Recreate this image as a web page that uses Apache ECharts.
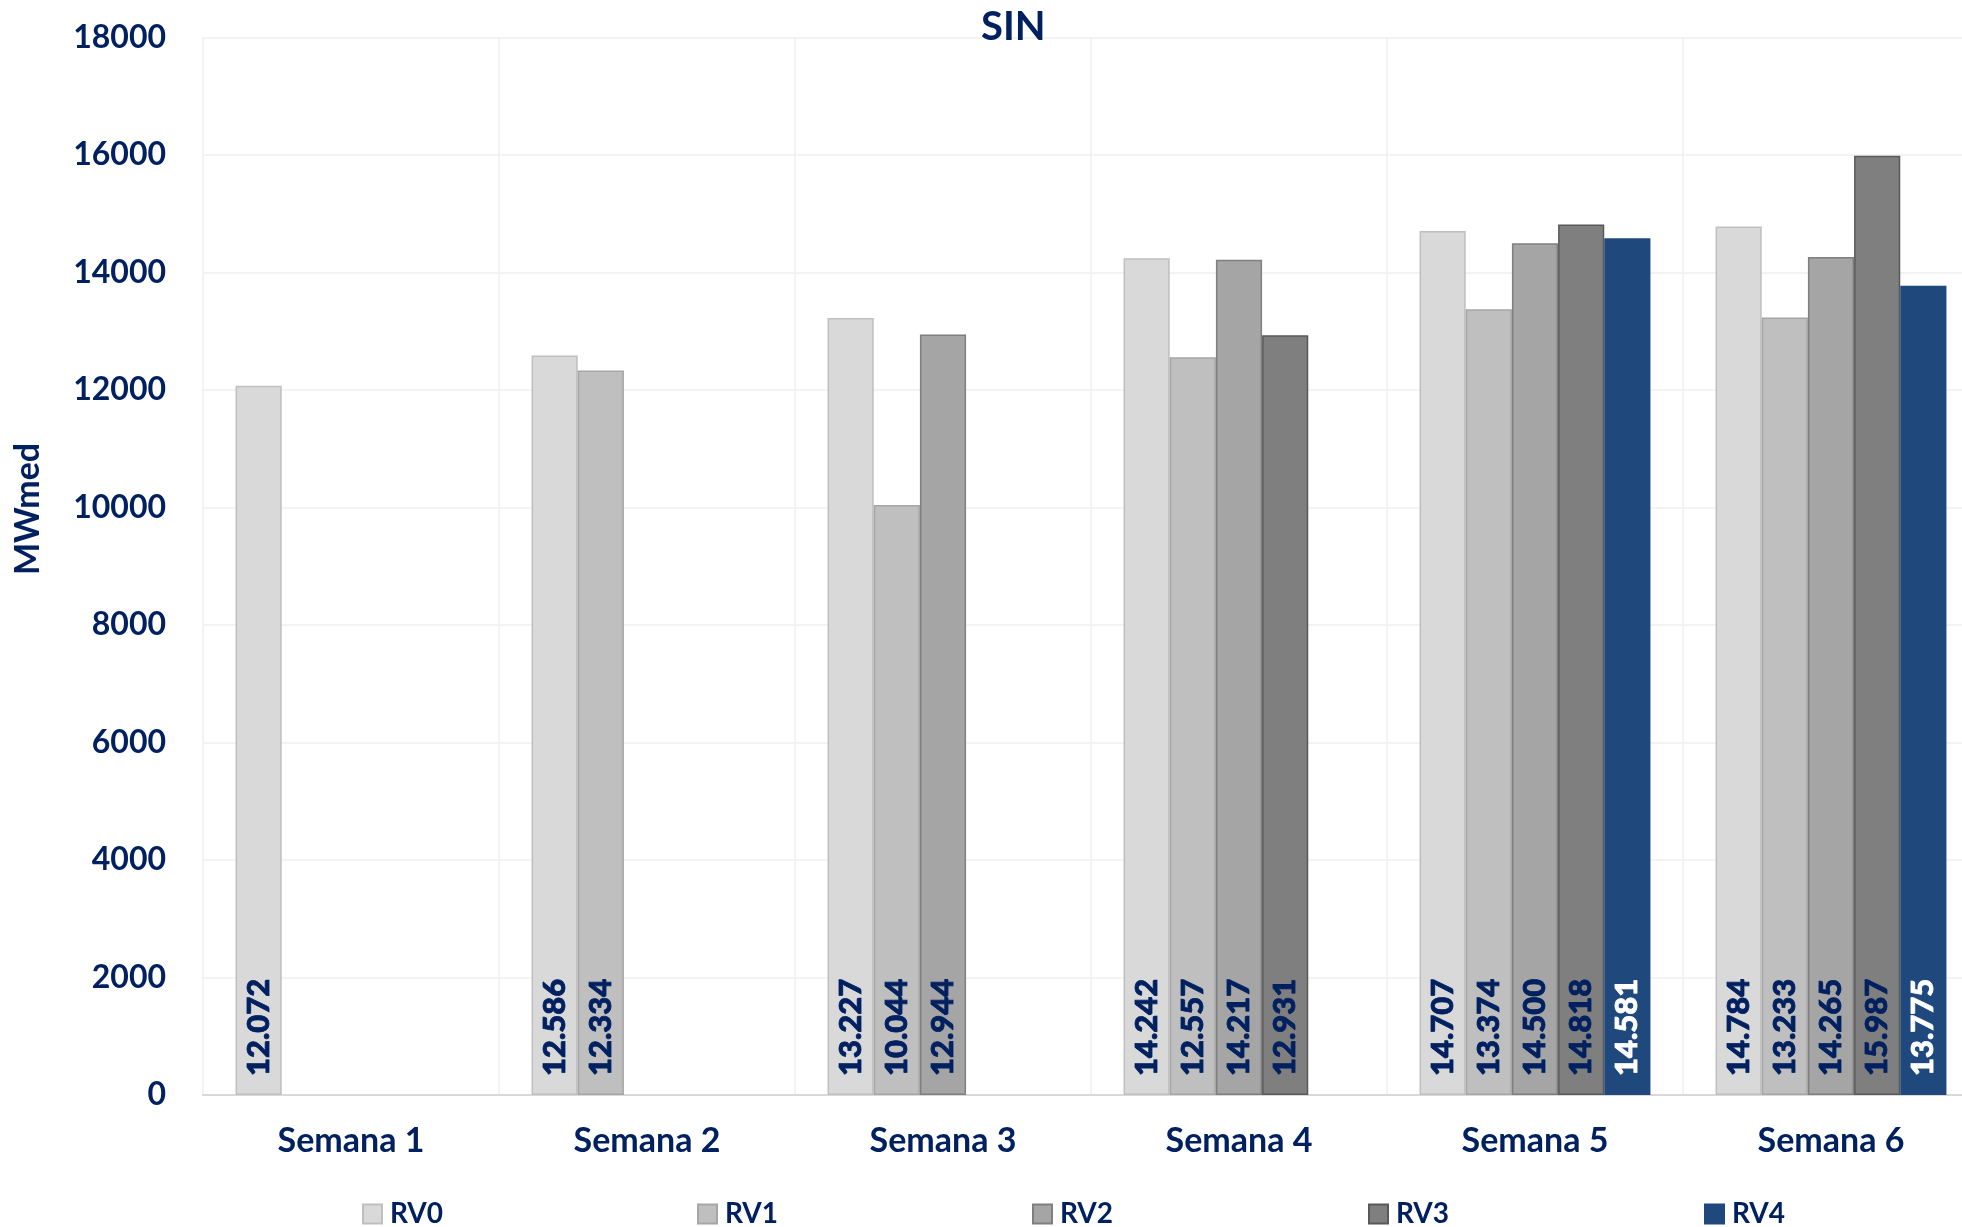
<!DOCTYPE html>
<html>
<head>
<meta charset="utf-8">
<script src="https://cdn.jsdelivr.net/npm/echarts@6/dist/echarts.min.js"></script>
<style>
html,body{margin:0;padding:0;background:#fff;}
#c{width:1962px;height:1227px;}
</style>
</head>
<body>
<div id="c"></div>
<script>
const categories = ['Semana 1','Semana 2','Semana 3','Semana 4','Semana 5','Semana 6'];
const seriesNames = ['RV0','RV1','RV2','RV3','RV4'];
const rv0 = [12072, 12586, 13227, 14242, 14707, 14784];
const rv1 = [null, 12334, 10044, 12557, 13374, 13233];
const rv2 = [null, null, 12944, 14217, 14500, 14265];
const rv3 = [null, null, null, 12931, 14818, 15987];
const rv4 = [null, null, null, null, 14581, 13775];
const yTicks = {min: 0, max: 18000, interval: 2000};

const values = [rv0, rv1, rv2, rv3, rv4];
const fills = ['#D9D9D9','#BFBFBF','#A5A5A5','#7F7F7F','#1F497D'];
const borders = ['#BFBFBF','#A6A6A6','#7F7F7F','#595959','#1F497D'];
const labelColors = ['#002060','#002060','#002060','#002060','#FFFFFF'];
const navy = '#002060';
const FONT = 'Lato';

function fmt(v){
  return String(v).replace(/\B(?=(\d{3})+(?!\d))/g, '.');
}

const legendLefts = [362, 697, 1032, 1368, 1704];

const chart = echarts.init(document.getElementById('c'), null, {renderer:'canvas'});
chart.setOption({
  backgroundColor: '#ffffff',
  animation: false,
  title: {
    text: 'SIN', left: 981, top: 7, padding: 0,
    textStyle: {color: navy, fontFamily: FONT, fontWeight: 'bold', fontSize: 40}
  },
  legend: seriesNames.map((n, i) => ({
    data: [n], left: legendLefts[i], top: 1200, padding: 0, itemWidth: 19, itemHeight: 19,
    icon: 'rect',
    textStyle: {color: navy, fontFamily: FONT, fontWeight: 'bold', fontSize: 28, padding: [0,0,0,3]}
  })),
  grid: {left: 203, top: 37.5, width: 1776, bottom: 132, containLabel: false, outerBoundsMode: 'none'},
  xAxis: {
    type: 'category', data: categories,
    axisLine: {show: true, lineStyle: {color: '#D9D9D9', width: 2}},
    axisTick: {show: false},
    splitLine: {show: true, lineStyle: {color: '#EFEFEF', width: 1.5}},
    axisLabel: {color: navy, fontFamily: FONT, fontWeight: 'bold', fontSize: 34, margin: 29}
  },
  yAxis: {
    type: 'value', min: yTicks.min, max: yTicks.max, interval: yTicks.interval,
    axisLine: {show: false}, axisTick: {show: false},
    splitLine: {lineStyle: {color: '#EFEFEF', width: 1.5}},
    axisLabel: {color: navy, fontFamily: FONT, fontWeight: 'bold', fontSize: 32, margin: 37,
      formatter: v => String(v)}
  },
  graphic: [{
    type: 'text', x: 28, y: 509, rotation: Math.PI/2,
    style: {text: 'MWmed', fill: navy, font: 'bold 34px ' + FONT, align: 'center', verticalAlign: 'middle'}
  }],
  series: seriesNames.map((n, i) => ({
    name: n, type: 'bar', data: values[i],
    barCategoryGap: '22%', barGap: '0%',
    itemStyle: {color: fills[i], borderColor: borders[i], borderWidth: 1.5},
    label: {
      show: true, position: 'insideBottom', rotate: 90, align: 'left', verticalAlign: 'middle',
      distance: 19, color: labelColors[i], fontFamily: FONT, fontWeight: 900, fontSize: 31,
      textBorderColor: labelColors[i], textBorderWidth: 0.8,
      formatter: p => fmt(p.value)
    }
  }))
});
</script>
</body>
</html>
